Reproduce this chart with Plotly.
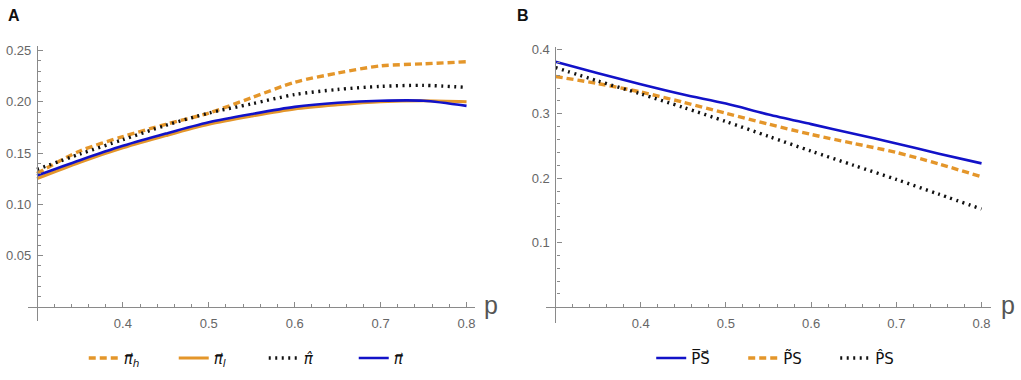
import numpy as np
import plotly.graph_objects as go

W, H = 1021, 380

# ---------------- data ----------------
p = [0.30, 0.35, 0.40, 0.45, 0.50, 0.55, 0.60, 0.65, 0.70, 0.75, 0.80]

# Panel A
pi_h   = [0.130, 0.152, 0.166, 0.178, 0.189, 0.204, 0.219, 0.228, 0.235, 0.237, 0.239]
pi_l   = [0.125, 0.141, 0.155, 0.167, 0.178, 0.186, 0.193, 0.197, 0.200, 0.201, 0.200]
pi_hat = [0.134, 0.149, 0.163, 0.177, 0.189, 0.198, 0.207, 0.212, 0.215, 0.216, 0.214]
pi_vec = [0.128, 0.143, 0.157, 0.169, 0.180, 0.188, 0.195, 0.199, 0.201, 0.201, 0.196]

# Panel B
ps_vec   = [0.381, 0.363, 0.346, 0.330, 0.316, 0.299, 0.284, 0.269, 0.254, 0.238, 0.223]
ps_tilde = [0.358, 0.347, 0.334, 0.318, 0.301, 0.284, 0.268, 0.254, 0.240, 0.222, 0.202]
ps_hat   = [0.372, 0.351, 0.331, 0.310, 0.288, 0.265, 0.242, 0.220, 0.198, 0.175, 0.152]

xticks = [0.4, 0.5, 0.6, 0.7, 0.8]
xticklabels = ["0.4", "0.5", "0.6", "0.7", "0.8"]
yticksA = [0.05, 0.10, 0.15, 0.20, 0.25]
yticklabelsA = ["0.05", "0.10", "0.15", "0.20", "0.25"]
yticksB = [0.1, 0.2, 0.3, 0.4]
yticklabelsB = ["0.1", "0.2", "0.3", "0.4"]

ORANGE = "#E4962A"
BLUE = "#1212C8"
BLACK = "#111111"
AXC = "#8a8a8a"
TXT = "#666666"

# ---------------- layout geometry (pixels) ----------------
def fx(px):
    return px / W

def fy(py):
    return (H - py) / H

# Panel A
A_left, A_right, A_top, A_bot = 28, 475, 42, 320
A_x0px, A_y0px = 37, 306          # pixel of origin (p=0.3, y=0)
A_xs, A_ys = 860.0, 1036.0        # px per unit
A_xr = [0.3 - (A_x0px - A_left) / A_xs, 0.3 + (A_right - A_x0px) / A_xs]
A_yr = [-(A_bot - A_y0px) / A_ys, (A_y0px - A_top) / A_ys]

# Panel B
B_left, B_right, B_top, B_bot = 547, 992, 43, 322
B_x0px, B_y0px = 556, 306
B_xs, B_ys = 853.0, 650.0
B_xr = [0.3 - (B_x0px - B_left) / B_xs, 0.3 + (B_right - B_x0px) / B_xs]
B_yr = [-(B_bot - B_y0px) / B_ys, (B_y0px - B_top) / B_ys]

fig = go.Figure()

DASH = "7px,4px"
DOT = "2px,4.5px"

def add(x, y, name, color, dash, width, xa, ya, legend):
    fig.add_trace(go.Scatter(
        x=x, y=y, name=name, mode="lines",
        line=dict(color=color, dash=dash, width=width, shape="spline", smoothing=0.8),
        xaxis=xa, yaxis=ya, legend=legend, cliponaxis=False,
    ))

add(p, pi_h, "<i>π⃗</i><sub><i>h</i></sub>", ORANGE, DASH, 3.4, "x", "y", "legend")
add(p, pi_l, "<i>π⃗</i><sub><i>l</i></sub>", ORANGE, "solid", 3.0, "x", "y", "legend")
add(p, pi_hat, "<i>π̂</i>", BLACK, DOT, 3.4, "x", "y", "legend")
add(p, pi_vec, "<i>π⃗</i>", BLUE, "solid", 2.6, "x", "y", "legend")

add(p, ps_vec, "P̅S⃗", BLUE, "solid", 2.6, "x2", "y2", "legend2")
add(p, ps_tilde, "P̃S", ORANGE, DASH, 3.4, "x2", "y2", "legend2")
add(p, ps_hat, "P̂S", BLACK, DOT, 3.4, "x2", "y2", "legend2")

tickfont = dict(family="Liberation Sans, Arial, sans-serif", size=13, color=TXT)

def xaxis_cfg(dom, rng, ypos):
    return dict(
        domain=dom, range=rng, anchor="free", position=ypos,
        showline=True, linecolor=AXC, linewidth=1.2,
        showgrid=False, zeroline=False,
        tickmode="array", tickvals=xticks, ticktext=xticklabels,
        ticks="inside", ticklen=5, tickwidth=1, tickcolor=AXC,
        tickfont=tickfont, ticklabelstandoff=5,
        minor=dict(tickmode="array", tickvals=list(np.round(np.arange(0.32, 0.81, 0.02), 2)),
                   ticks="inside", ticklen=3, tickwidth=1, tickcolor=AXC),
        fixedrange=True,
    )

def yaxis_cfg(dom, rng, xpos, vals, labels, minor_vals):
    return dict(
        domain=dom, range=rng, anchor="free", position=xpos,
        showline=True, linecolor=AXC, linewidth=1.2,
        showgrid=False, zeroline=False,
        tickmode="array", tickvals=vals, ticktext=labels,
        ticks="inside", ticklen=5, tickwidth=1, tickcolor=AXC,
        tickfont=tickfont, ticklabelstandoff=3,
        minor=dict(tickmode="array", tickvals=minor_vals,
                   ticks="inside", ticklen=3, tickwidth=1, tickcolor=AXC),
        fixedrange=True,
    )

A_ydom = [fy(A_bot), fy(A_top)]
B_ydom = [fy(B_bot), fy(B_top)]

def pos_of_zero(dom, rng):
    return dom[0] + (0 - rng[0]) / (rng[1] - rng[0]) * (dom[1] - dom[0])

def pos_of_x(dom, rng, v):
    return dom[0] + (v - rng[0]) / (rng[1] - rng[0]) * (dom[1] - dom[0])

A_xdom = [fx(A_left), fx(A_right)]
B_xdom = [fx(B_left), fx(B_right)]

xa = xaxis_cfg(A_xdom, A_xr, pos_of_zero(A_ydom, A_yr))
xb = xaxis_cfg(B_xdom, B_xr, pos_of_zero(B_ydom, B_yr))
ya = yaxis_cfg(A_ydom, A_yr, pos_of_x(A_xdom, A_xr, 0.3), yticksA, yticklabelsA,
               [v for v in np.round(np.arange(0.01, 0.255, 0.01), 2) if round(v * 100) % 5 != 0])
yb = yaxis_cfg(B_ydom, B_yr, pos_of_x(B_xdom, B_xr, 0.3), yticksB, yticklabelsB,
               [v for v in np.round(np.arange(0.02, 0.405, 0.02), 2) if round(v * 100) % 10 != 0])

legfont = dict(family="DejaVu Sans, sans-serif", size=15, color="#111111")

fig.update_layout(
    width=W, height=H,
    margin=dict(l=0, r=0, t=0, b=0),
    paper_bgcolor="white", plot_bgcolor="white",
    xaxis=xa, yaxis=ya, xaxis2=xb, yaxis2=yb,
    legend=dict(orientation="h", x=fx(264), y=fy(358), xanchor="center", yanchor="middle",
                font=legfont, bgcolor="rgba(0,0,0,0)", itemwidth=30, entrywidth=45,
                tracegroupgap=0),
    legend2=dict(orientation="h", x=fx(790), y=fy(358), xanchor="center", yanchor="middle",
                 font=legfont, bgcolor="rgba(0,0,0,0)", itemwidth=30, entrywidth=47,
                 tracegroupgap=0),
    showlegend=True,
    annotations=[
        dict(text="<b>A</b>", x=fx(6), y=fy(12), xref="paper", yref="paper",
             xanchor="left", yanchor="middle", showarrow=False,
             font=dict(family="Liberation Sans, Arial, sans-serif", size=16, color="#111")),
        dict(text="<b>B</b>", x=fx(516), y=fy(12), xref="paper", yref="paper",
             xanchor="left", yanchor="middle", showarrow=False,
             font=dict(family="Liberation Sans, Arial, sans-serif", size=16, color="#111")),
        dict(text="p", x=fx(482), y=fy(304), xref="paper", yref="paper",
             xanchor="left", yanchor="middle", showarrow=False,
             font=dict(family="Liberation Sans, Arial, sans-serif", size=25, color="#555")),
        dict(text="p", x=fx(1000), y=fy(304), xref="paper", yref="paper",
             xanchor="left", yanchor="middle", showarrow=False,
             font=dict(family="Liberation Sans, Arial, sans-serif", size=25, color="#555")),
    ],
)

fig.write_html("out.html", config={"displayModeBar": False},
               post_script="document.body.style.margin='0px';document.body.style.padding='0px';")
